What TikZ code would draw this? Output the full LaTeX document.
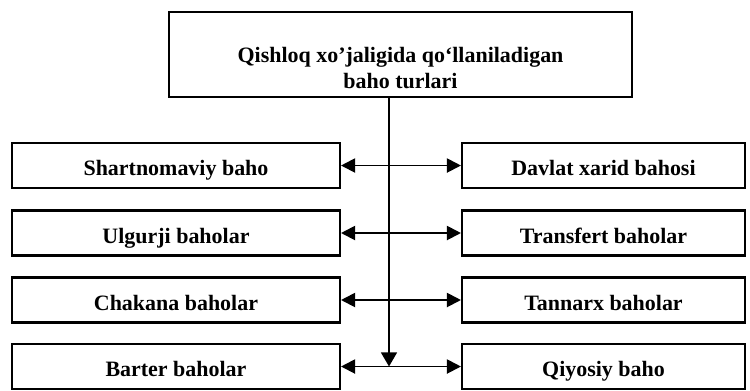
\documentclass[tikz,border=0pt]{standalone}
\usepackage{fontspec}
\setmainfont{Liberation Serif}
\usetikzlibrary{arrows.meta}

\begin{document}
\begin{tikzpicture}[x=0.02cm, y=-0.02cm,
        every node/.style={draw, line width=1.2pt, font=\bfseries\fontsize{12.5}{14.5}\selectfont, align=center, inner sep=0pt, minimum height=0.9cm},
        leftbox/.style={minimum width=6.56cm, text height=12.5pt, text depth=1pt},
        rightbox/.style={minimum width=5.66cm, text height=12.5pt, text depth=1pt},
        link/.style={line width=1.1pt, {Triangle[length=8pt,width=8pt]}-{Triangle[length=8pt,width=8pt]}},
        spine/.style={line width=1.1pt, -{Triangle[length=8pt,width=9pt]}}]

    \useasboundingbox (0,0) rectangle (750,390);

    \node[minimum width=9.26cm, minimum height=1.7cm] (turlar) at (400.5,54.5) {\rule{0pt}{24pt}Qishloq xo'jaligida qo`llaniladigan\\baho turlari};

    \node[leftbox] (shartnoma) at (176,165.5) {Shartnomaviy baho};
    \node[leftbox] (ulgurji) at (176,233) {Ulgurji baholar};
    \node[leftbox] (chakana) at (176,300) {Chakana baholar};
    \node[leftbox] (barter) at (176,366.5) {Barter baholar};

    \node[rightbox] (davlat) at (603.5,165.5) {Davlat xarid bahosi};
    \node[rightbox] (transfert) at (603.5,233) {Transfert baholar};
    \node[rightbox] (tannarx) at (603.5,300) {Tannarx baholar};
    \node[rightbox] (qiyosiy) at (603.5,366.5) {Qiyosiy baho};

    \coordinate (tugun) at (389,366.5);
    \draw[spine] (turlar.south -| tugun) -- (tugun);

    \draw[link] (shartnoma.east) -- (davlat.west);
    \draw[link] (ulgurji.east) -- (transfert.west);
    \draw[link] (chakana.east) -- (tannarx.west);
    \draw[link] (barter.east) -- (qiyosiy.west);
\end{tikzpicture}
\end{document}
